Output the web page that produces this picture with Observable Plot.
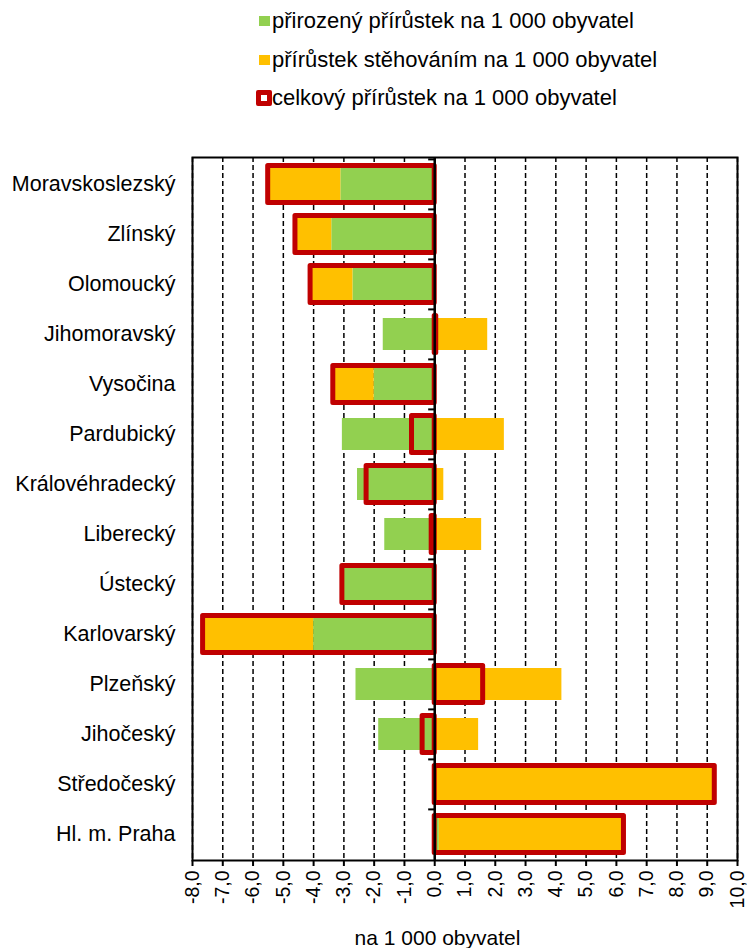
<!DOCTYPE html>
<html>
<head>
<meta charset="utf-8">
<script src="https://cdn.jsdelivr.net/npm/d3@7"></script>
<script src="https://cdn.jsdelivr.net/npm/@observablehq/plot@0.6"></script>
<style>
  body { margin: 0; background: #fff; font-family: "Liberation Sans", Arial, sans-serif; }
  #wrap { width: 747px; height: 948px; position: relative; overflow: hidden; }
  #legend { position: relative; height: 120px; font-size: 22px; color: #000; }
  .item { position: absolute; left: 256px; height: 30px; line-height: 30px; white-space: nowrap; }
  .sw { position: absolute; top: 10px; width: 11px; height: 10px; }
  .lbl { position: absolute; left: 16px; top: 0; }
  .tot { position: absolute; top: 7px; left: 0; width: 6px; height: 6px; border: 5px solid #C00000; border-radius: 2px; background: #fff; }
  #caption { height: 20px; line-height: 20px; font-size: 21px; text-align: center; padding-left: 128px; width: 619px; }
</style>
</head>
<body>
<div id="wrap">
  <div id="legend"></div>
  <div id="chart"></div>
  <div id="caption"></div>
</div>
<script>
const regions = ["Moravskoslezský","Zlínský","Olomoucký","Jihomoravský","Vysočina","Pardubický","Královéhradecký","Liberecký","Ústecký","Karlovarský","Plzeňský","Jihočeský","Středočeský","Hl. m. Praha"];
const natural   = [-3.1, -3.4, -2.7, -1.7, -2.0, -3.05, -2.55, -1.65, -3.0, -4.0, -2.6, -1.85, 0.0, 0.15];
const migration = [-2.4, -1.2, -1.4, 1.75, -1.35, 2.3, 0.3, 1.55, -0.05, -3.65, 4.2, 1.45, 9.25, 6.05];
const total     = [-5.5, -4.6, -4.1, 0.05, -3.35, -0.75, -2.25, -0.1, -3.05, -7.65, 1.6, -0.4, 9.25, 6.25];
const seriesNames = ["přirozený přírůstek na 1 000 obyvatel", "přírůstek stěhováním na 1 000 obyvatel", "celkový přírůstek na 1 000 obyvatel"];
const xTicks = [-8,-7,-6,-5,-4,-3,-2,-1,0,1,2,3,4,5,6,7,8,9,10];
const axisTitle = "na 1 000 obyvatel";

const colors = ["#92D050", "#FFC000", "#C00000"];

// legend
const legend = document.getElementById("legend");
const centers = [21, 60, 98];
seriesNames.forEach((name, i) => {
  const it = document.createElement("div");
  it.className = "item";
  it.style.top = (centers[i] - 15) + "px";
  const sw = document.createElement("div");
  if (i < 2) {
    sw.className = "sw";
    sw.style.left = "3px";
    sw.style.background = colors[i];
  } else {
    sw.className = "tot";
  }
  const lb = document.createElement("span");
  lb.className = "lbl";
  lb.textContent = name;
  it.appendChild(sw);
  it.appendChild(lb);
  legend.appendChild(it);
});
document.getElementById("caption").textContent = axisTitle;

const stacked = [];
regions.forEach((r, i) => {
  stacked.push({region: r, series: "natural", value: natural[i]});
  stacked.push({region: r, series: "migration", value: migration[i]});
});
const totals = regions.map((r, i) => ({region: r, value: total[i]}));

const H = 808, mTop = 37, mBottom = 68;
const step = (H - mTop - mBottom) / regions.length;
const fmt = d => d.toFixed(1).replace(".", ",");

const chart = Plot.plot({
  width: 747,
  height: H,
  marginLeft: 192,
  marginRight: 10,
  marginTop: mTop,
  marginBottom: mBottom,
  style: {fontFamily: "'Liberation Sans', Arial, sans-serif", fontSize: "21px", color: "#000", background: "#fff"},
  x: {domain: [-8, 10], ticks: xTicks},
  y: {domain: regions, paddingInner: 0.36, paddingOuter: 0.18},
  color: {domain: ["natural", "migration"], range: [colors[0], colors[1]]},
  marks: [
    Plot.ruleX(xTicks, {x: d => d, stroke: "#000", strokeWidth: 1.5, strokeDasharray: "5,3"}),
    Plot.barX(stacked, Plot.stackX({x: "value", y: "region", fill: "series", order: null})),
    Plot.barX(totals, {x1: 0, x2: "value", y: "region", fill: "none", stroke: colors[2], strokeWidth: 5, strokeLinejoin: "round", insetTop: -2.5, insetBottom: -2.5}),
    Plot.ruleY(regions, {y: d => d, x1: -0.2, x2: 0, dy: -step / 2, stroke: "#000", strokeWidth: 2}),
    Plot.ruleX([0], {stroke: "#000", strokeWidth: 2.5}),
    Plot.frame({stroke: "#000", strokeWidth: 2}),
    Plot.axisY({tickSize: 0, tickPadding: 17, fontSize: 21.5, label: null}),
    Plot.axisX(xTicks, {tickSize: 6, tickPadding: 4, tickRotate: -90, tickFormat: fmt, fontSize: 19.5, label: null, strokeWidth: 2})
  ]
});
document.getElementById("chart").appendChild(chart);
</script>
</body>
</html>
